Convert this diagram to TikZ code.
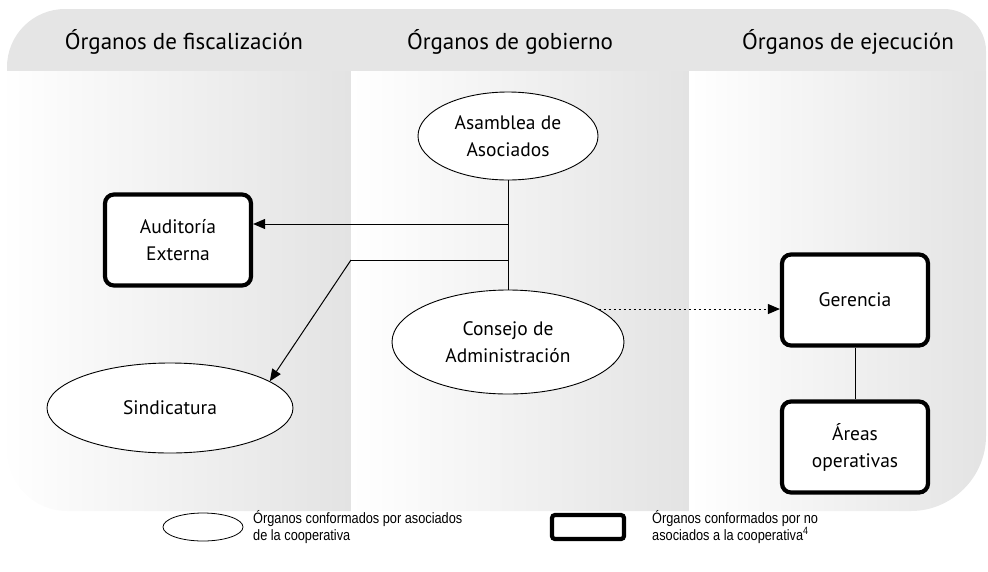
\documentclass[tikz,border=0pt]{standalone}
\usepackage{fontspec}
\setmainfont{PT Sans}
\newfontfamily\legendfont[FakeStretch=0.85]{Liberation Sans}
\usetikzlibrary{arrows.meta,shapes.geometric}

\tikzset{
  organo/.style={ellipse, draw, fill=white, line width=0.9pt, align=center, inner sep=0pt, font=\fontsize{19.5}{27}\selectfont},
  externo/.style={rectangle, rounded corners=9pt, draw, fill=white, line width=4.2pt, minimum width=146pt, minimum height=91pt, align=center, font=\fontsize{19.5}{27}\selectfont},
  enlace/.style={line width=1pt},
  flecha/.style={enlace, -{Triangle[length=12pt,width=10pt]}},
  punteada/.style={dash pattern=on 2pt off 3pt},
  titulo/.style={font=\fontsize{23}{27}\selectfont},
  leyenda/.style={anchor=west, align=left, inner sep=0pt, font=\legendfont\fontsize{15}{16.5}\selectfont},
  columna/.style={left color=white, right color=black!11},
}

\begin{document}
\begin{tikzpicture}[x=1pt,y=1pt,yscale=-1,xscale=1]
        \useasboundingbox (0,0) rectangle (988,571);

        %Background
        \begin{scope}
        \clip (7,67) .. controls (7,35) and (33,9) .. (65,9) -- (944,9) .. controls (967,9) and (986,28) .. (986,51) -- (986,436) .. controls (986,477) and (952,511) .. (911,511) -- (67,511) .. controls (34,511) and (7,484) .. (7,451) -- cycle;
        \fill[black!10] (0,0) rectangle (988,71);
        \shade[columna] (0,71) rectangle (351,520);
        \shade[columna] (351,71) rectangle (689,520);
        \shade[columna] (689,71) rectangle (990,520);
        \end{scope}

        % Text Node
        \node[titulo] (tfisc) at (184,42) {Órganos de fiscalización};
        % Text Node
        \node[titulo] (tgob) at (510,42) {Órganos de gobierno};
        % Text Node
        \node[titulo] (teje) at (848,42) {Órganos de ejecución};

        %Ellipses
        \node[organo, minimum width=180pt, minimum height=88pt] (asamblea) at (508,136) {Asamblea de\\Asociados};
        \node[organo, minimum width=232pt, minimum height=104pt] (consejo) at (508,342) {Consejo de\\Administración};
        \node[organo, minimum width=246pt, minimum height=90pt] (sindic) at (170,408) {Sindicatura};
        %Rectangles
        \node[externo] (audit) at (178,240) {Auditoría\\Externa};
        \node[externo] (gerencia) at (855,300) {Gerencia};
        \node[externo] (areas) at (855,447) {Áreas\\operativas};

        %Straight Lines
        \coordinate (r1) at (508,224);
        \coordinate (r2) at (508,260);
        \coordinate (codo) at (351,260);
        \draw[enlace] (asamblea) -- (consejo);
        \draw[flecha] (r1) -- (r1 -| audit.east);
        \draw[enlace] (r2) -- (codo);
        \draw[flecha] (codo) -- (sindic.15);
        \draw[flecha, punteada] (consejo.20) -- (consejo.20 -| gerencia.west);
        \draw[enlace] (gerencia) -- (areas);

        %Legend
        \node[organo, minimum width=80pt, minimum height=28pt, line width=0.8pt] (leyelipse) at (203,527) {};
        \node[leyenda] (leytexto1) at (253,527) {Órganos conformados por asociados\\de la cooperativa};
        \node[externo, minimum width=72pt, minimum height=24pt, rounded corners=3pt] (leycaja) at (588,527) {};
        \node[leyenda] (leytexto2) at (652,527) {Órganos conformados por no\\asociados a la cooperativa\textsuperscript{4}};

    \end{tikzpicture}
\end{document}
